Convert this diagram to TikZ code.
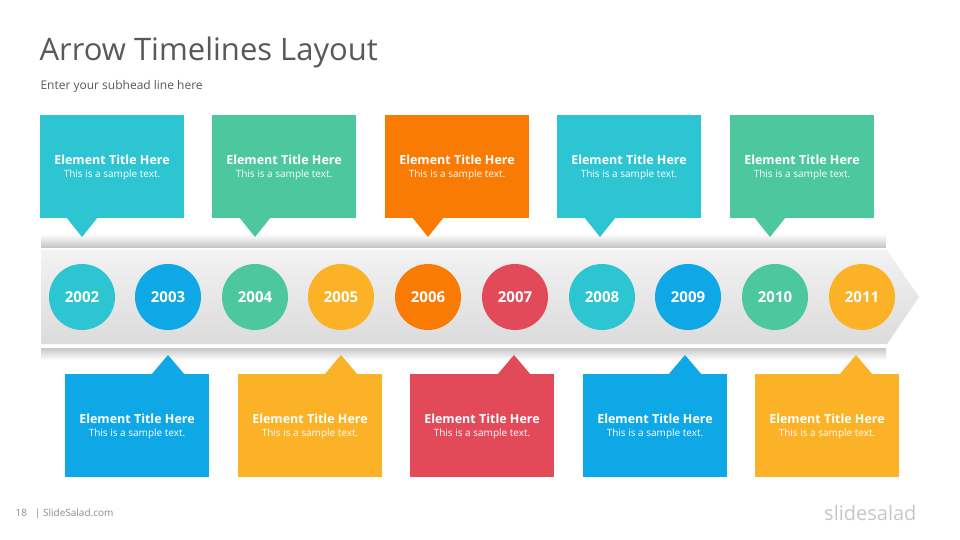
\documentclass[tikz,border=0pt]{standalone}
\usepackage{fontspec}
\setmainfont{Open Sans}
\usetikzlibrary{shadings}
\definecolor{ccyan}{HTML}{2EC5D3}
\definecolor{cblue}{HTML}{0EA8E6}
\definecolor{cgreen}{HTML}{4DC89E}
\definecolor{cyellow}{HTML}{FBB226}
\definecolor{corange}{HTML}{FA7B04}
\definecolor{cred}{HTML}{E34A59}
\definecolor{tgray}{HTML}{595959}
\tikzset{
  yearc/.style={circle,minimum size=66pt,inner sep=0pt,text=white,font=\bfseries\fontsize{15}{16}\selectfont},
  boxtxt/.style={text=white,align=center,font=\fontsize{12.5}{14}\selectfont},
}
\newcommand{\boxcontent}{{\bfseries Element Title Here}\\[-1pt]{\fontsize{10}{11}\selectfont This is a sample text.}}
\begin{document}
\begin{tikzpicture}[x=1pt,y=-1pt]
\useasboundingbox[fill=white] (0,0) rectangle (960,540);
\node[anchor=west,text=tgray,font=\fontsize{31}{34}\selectfont] (title) at (36,52) {Arrow Timelines Layout};
\node[anchor=west,text=tgray,font=\fontsize{12}{14}\selectfont] (sub) at (37,86) {Enter your subhead line here};
% shadow bars
\shade[top color=white,bottom color=black!22] (41,234) rectangle (886,247);
\shade[top color=black!22,bottom color=white] (41,348) rectangle (886,360);
% arrow band
\shade[top color=black!5,bottom color=black!14] (41,250) -- (887,250) -- (919,297) -- (887,344) -- (41,344) -- cycle;
% top boxes
\foreach \bx/\px/\c/\n in {40/82/ccyan/t1,212/255/cgreen/t2,385/428/corange/t3,557/600/ccyan/t4,730/770/cgreen/t5}{
  \fill[\c] (\bx,115) rectangle (\bx+144,218);
  \fill[\c] (\px-16,217) -- (\px+16,217) -- (\px,237) -- cycle;
  \node[boxtxt] (\n) at (\bx+72,167) {\boxcontent};
}
% bottom boxes
\foreach \bx/\px/\c/\n in {65/168/cblue/b1,238/341/cyellow/b2,410/514/cred/b3,583/685/cblue/b4,755/856/cyellow/b5}{
  \fill[\c] (\bx,374) rectangle (\bx+144,477);
  \fill[\c] (\px-17,375) -- (\px+17,375) -- (\px,355) -- cycle;
  \node[boxtxt] (\n) at (\bx+72,426) {\boxcontent};
}
% circles
\foreach \x/\c/\y in {82/ccyan/2002,168/cblue/2003,255/cgreen/2004,341/cyellow/2005,428/corange/2006,515/cred/2007,602/ccyan/2008,688/cblue/2009,775/cgreen/2010,862/cyellow/2011}{
  \node[yearc,fill=\c] (y\y) at (\x,297) {\y};
}
\node[anchor=west,text=black!45,font=\fontsize{10}{12}\selectfont] (foot) at (12,514) {18\hspace{8pt}| SlideSalad.com};
\node[anchor=east,text=black!22,font=\fontsize{20}{22}\selectfont] (logo) at (920,513) {slidesalad};
\end{tikzpicture}
\end{document}
